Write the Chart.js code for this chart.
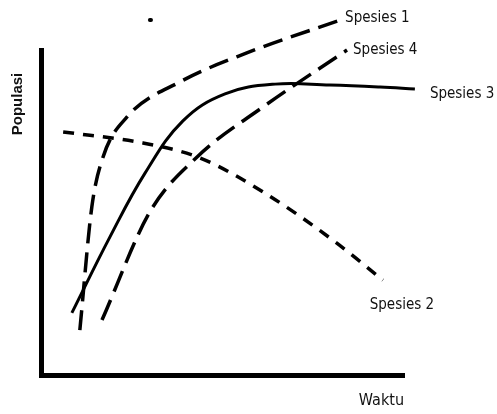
<!DOCTYPE html>
<html>
<head>
<meta charset="utf-8">
<script src="https://cdn.jsdelivr.net/npm/chart.js@4"></script>
<style>
  html, body { margin: 0; padding: 0; background: #fff; }
  #wrap { width: 497px; height: 414px; }
</style>
</head>
<body>
<div id="wrap"><canvas id="chart"></canvas></div>
<script>
// time / population points (0-100 along each axis)
const spesies1X = [10.7, 14.0, 17.1, 23.7, 38.3, 56.7, 82.4]
const spesies1Y = [13.8, 51.7, 67.1, 79.4, 90.2, 99.1, 109.2]

const spesies2X = [6.1, 28.1, 43.8, 61.2, 80.4, 94.2]
const spesies2Y = [74.8, 71.4, 66.8, 56.3, 41.5, 29.2]

const spesies3X = [8.5, 19.0, 28.7, 39.1, 50.7, 64.5, 79.6, 93.4, 103.0]
const spesies3Y = [19.1, 42.5, 62.2, 78.2, 86.5, 89.5, 89.2, 88.6, 88.0]

const spesies4X = [16.8, 30.0, 43.0, 61.2, 84.3]
const spesies4Y = [16.9, 50.2, 67.1, 82.5, 100.0]

// the stray dot above the curves
const titikX = [30.0, 30.3]
const titikY = [109.2, 109.2]

const seriesNames = ['Spesies 1', 'Spesies 4', 'Spesies 3', 'Spesies 2']
const xTitle = 'Waktu'
const yTitle = 'Populasi'

const toPts = (xs, ys) => xs.map((x, i) => ({ x: x, y: ys[i] }))

// where each line label sits relative to the last point of its line
const labelOffsets = {
  'Spesies 1': { dx: 5, dy: -2, align: 'left' },
  'Spesies 4': { dx: 6, dy: 0, align: 'left' },
  'Spesies 3': { dx: 15, dy: 5, align: 'left' },
  'Spesies 2': { dx: 19, dy: 25, align: 'center' },
}

const lineLabels = {
  id: 'lineLabels',
  afterDatasetsDraw(chart) {
    const ctx = chart.ctx
    ctx.save()
    ctx.fillStyle = '#111'
    ctx.font = '15px "Liberation Sans Narrow", "DejaVu Sans Condensed", sans-serif'
    ctx.textBaseline = 'middle'
    chart.data.datasets.forEach((ds, i) => {
      const off = labelOffsets[ds.label]
      if (!off) return
      const pts = chart.getDatasetMeta(i).data
      const last = pts[pts.length - 1]
      ctx.textAlign = off.align
      ctx.fillText(ds.label, last.x + off.dx, last.y + off.dy)
    })
    // y axis title, near the top of the axis
    const area = chart.chartArea
    ctx.font = 'bold 15px "Liberation Sans", sans-serif'
    ctx.translate(area.left - 23, area.top + 54)
    ctx.rotate(-Math.PI / 2)
    ctx.textAlign = 'center'
    ctx.fillText(yTitle, 0, 0)
    ctx.restore()
  },
}

const common = {
  borderColor: '#000',
  backgroundColor: '#000',
  borderWidth: 3.5,
  pointRadius: 0,
  cubicInterpolationMode: 'monotone',
  fill: false,
  clip: false,
}

new Chart(document.getElementById('chart'), {
  type: 'line',
  data: {
    datasets: [
      { ...common, label: seriesNames[0], data: toPts(spesies1X, spesies1Y), borderDash: [20, 9] },
      { ...common, label: seriesNames[1], data: toPts(spesies4X, spesies4Y), borderDash: [22, 9] },
      { ...common, label: seriesNames[2], data: toPts(spesies3X, spesies3Y), borderWidth: 3,
        cubicInterpolationMode: 'default', tension: 0.4 },
      { ...common, label: seriesNames[3], data: toPts(spesies2X, spesies2Y), borderDash: [11, 9] },
      { ...common, label: '', data: toPts(titikX, titikY), borderWidth: 4, borderCapStyle: 'round' },
    ],
  },
  options: {
    responsive: true,
    maintainAspectRatio: false,
    animation: false,
    layout: { padding: { top: 50, right: 93, left: 0, bottom: 0 } },
    plugins: {
      legend: { display: false },
      tooltip: { enabled: false },
      title: { display: false },
    },
    scales: {
      x: {
        type: 'linear',
        min: 0,
        max: 100,
        grid: { display: false },
        border: { display: true, color: '#000', width: 5 },
        ticks: { display: false },
        title: {
          display: true,
          text: xTitle,
          align: 'end',
          color: '#111',
          font: { family: '"Liberation Sans Narrow", "DejaVu Sans Condensed", sans-serif', size: 16 },
          padding: { top: 8 },
        },
        afterFit: (s) => { s.height = 39 },
      },
      y: {
        type: 'linear',
        min: 0,
        max: 100,
        grid: { display: false },
        border: { display: true, color: '#000', width: 5 },
        ticks: { display: false },
        afterFit: (s) => { s.width = 41 },
      },
    },
  },
  plugins: [lineLabels],
})
</script>
</body>
</html>
